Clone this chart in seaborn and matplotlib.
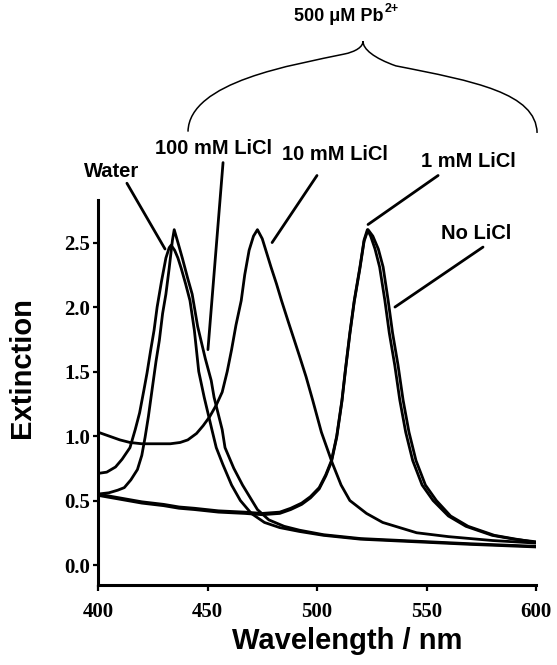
import matplotlib
matplotlib.use("Agg")
import numpy as np
import pandas as pd
import seaborn as sns
import matplotlib.pyplot as plt
from matplotlib.path import Path
from matplotlib.patches import PathPatch

# ---------------- data ----------------
water_nm = [400, 404, 408, 411, 414.6, 417, 419, 421, 422.4, 424, 425.6, 427, 429, 431, 432.5, 433.4,
            435, 436.5, 438, 440, 442, 444, 446, 448.5, 452, 454, 457, 461, 465, 470, 476, 483, 492,
            503, 520, 545, 570, 600]
water_ext = [0.71, 0.72, 0.76, 0.82, 0.91, 1.05, 1.18, 1.36, 1.49, 1.66, 1.82, 2.00, 2.20, 2.38, 2.46, 2.48,
             2.44, 2.38, 2.30, 2.18, 2.05, 1.82, 1.50, 1.30, 1.05, 0.91, 0.78, 0.62, 0.50, 0.40, 0.33, 0.29, 0.26,
             0.23, 0.20, 0.18, 0.16, 0.14]

licl100_nm = [400, 405, 409, 412, 415, 418, 420, 421.5, 423, 424.7, 426.5, 428, 429.5, 431, 432.5, 434, 434.8,
              436.5, 438.5, 441, 443, 445.5, 449, 451.7, 453, 456.7, 458, 462, 466, 472.8, 478, 485, 492,
              503, 520, 545, 570, 600]
licl100_ext = [0.55, 0.56, 0.58, 0.60, 0.66, 0.74, 0.85, 0.99, 1.15, 1.36, 1.58, 1.74, 1.95, 2.10, 2.30, 2.52, 2.60,
               2.50, 2.38, 2.22, 2.10, 1.85, 1.60, 1.43, 1.30, 1.05, 0.91, 0.75, 0.62, 0.43, 0.35, 0.30, 0.27,
               0.235, 0.205, 0.185, 0.165, 0.145]

licl10_nm = [400, 405, 410, 414.6, 420, 427, 433, 437.5, 441, 445, 448, 451, 454, 456.7, 459, 461, 463, 465.4, 467,
             469, 471, 472.8, 475, 477, 479, 481.5, 483.8, 487, 489.7, 492, 495, 498, 502, 507, 511, 515,
             522.6, 530, 545.5, 560, 580, 600]
licl10_ext = [1.03, 1.00, 0.97, 0.95, 0.94, 0.94, 0.94, 0.95, 0.97, 1.02, 1.08, 1.15, 1.24, 1.34, 1.50, 1.67, 1.86, 2.05, 2.25,
              2.44, 2.55, 2.60, 2.53, 2.42, 2.31, 2.18, 2.05, 1.88, 1.74, 1.62, 1.46, 1.28, 1.03, 0.79, 0.62, 0.50,
              0.40, 0.33, 0.25, 0.22, 0.19, 0.17]

licl1_nm = [400, 410, 420, 430, 437, 444, 455, 467, 475, 483, 488, 493, 497, 501, 504, 506.6, 509, 511.4,
            513, 515, 517, 519.6, 521.5, 523, 524.5, 526.5, 528.6, 531, 533, 535.5, 537.8, 540.5, 543.7,
            548, 553, 560, 568, 580, 590, 600]
licl1_ext = [0.55, 0.52, 0.49, 0.47, 0.45, 0.44, 0.42, 0.41, 0.40, 0.41, 0.44, 0.48, 0.53, 0.60, 0.70, 0.81, 1.00, 1.28,
             1.52, 1.80, 2.05, 2.31, 2.52, 2.60, 2.55, 2.45, 2.31, 2.05, 1.80, 1.55, 1.28, 1.03, 0.81,
             0.62, 0.50, 0.38, 0.30, 0.23, 0.20, 0.18]

nolicl_nm = [400, 410, 420, 430, 437, 444, 455, 467, 475, 483, 488, 493, 497, 501, 504, 506.6, 509, 511.4,
             513, 515, 517, 519.6, 521.5, 523.3, 525.5, 528, 530.2, 532.5, 534.5, 537, 539.3, 542, 545.2,
             549.5, 554.5, 561, 569, 581, 591, 600]
nolicl_ext = [0.54, 0.51, 0.48, 0.46, 0.44, 0.43, 0.41, 0.40, 0.39, 0.40, 0.43, 0.47, 0.52, 0.59, 0.69, 0.80, 0.99, 1.27,
              1.51, 1.79, 2.04, 2.30, 2.51, 2.60, 2.55, 2.45, 2.31, 2.05, 1.80, 1.55, 1.28, 1.03, 0.81,
              0.62, 0.50, 0.38, 0.30, 0.23, 0.20, 0.175]

series_names = ["Water", "100 mM LiCl", "10 mM LiCl", "1 mM LiCl", "No LiCl"]
series_nm = [water_nm, licl100_nm, licl10_nm, licl1_nm, nolicl_nm]
series_ext = [water_ext, licl100_ext, licl10_ext, licl1_ext, nolicl_ext]

x_ticks = [400, 450, 500, 550, 600]
y_ticks = [0.0, 0.5, 1.0, 1.5, 2.0, 2.5]

# ---------------- figure ----------------
sns.set_style("ticks")
plt.rcParams["font.family"] = ["Liberation Sans", "DejaVu Sans"]
plt.rcParams["text.color"] = "black"
plt.rcParams["axes.labelcolor"] = "black"
plt.rcParams["xtick.color"] = "black"
plt.rcParams["ytick.color"] = "black"

fig = plt.figure(figsize=(5.57, 6.65), dpi=100)
ax = fig.add_axes([98 / 557, 1 - 585 / 665, 438 / 557, 385 / 665])

frames = [pd.DataFrame({"Wavelength": n, "Extinction": e, "sample": s})
          for s, n, e in zip(series_names, series_nm, series_ext)]
df = pd.concat(frames, ignore_index=True)
sns.lineplot(data=df, x="Wavelength", y="Extinction", units="sample", estimator=None,
             color="black", lw=2.0, sort=False, ax=ax, legend=False)

ax.set_xlim(400, 600)
ax.set_ylim(-0.155, 2.83)
ax.set_xticks(x_ticks)
ax.set_xticklabels([str(v) for v in x_ticks])
ax.set_yticks(y_ticks)
ax.set_yticklabels([f"{v:.1f}" for v in y_ticks])
for lab in ax.get_xticklabels() + ax.get_yticklabels():
    lab.set_fontfamily("Liberation Serif")
    lab.set_fontweight("bold")
    lab.set_fontsize(15)
    lab.set_color("black")
ax.tick_params(axis="y", direction="out", length=3.5, width=1.6, pad=2, colors="black")
ax.tick_params(axis="x", direction="out", length=4.5, width=1.6, pad=8, colors="black")
sns.despine(ax=ax)
for sp in ["left", "bottom"]:
    ax.spines[sp].set_linewidth(2.2)
    ax.spines[sp].set_color("black")

ax.set_xlabel("Wavelength / nm", fontsize=21, fontweight="bold", color="black")
ax.xaxis.set_label_coords(0.57, -0.11)
ax.set_ylabel("Extinction", fontsize=21, fontweight="bold", color="black")
ax.yaxis.set_label_coords(-0.142, 0.566)

# ---------------- annotations ----------------
line_kw = dict(arrowstyle="-", lw=2.0, color="black", shrinkA=0, shrinkB=0)
ann = [
    ("Water", (406.2, 3.05), (413.2, 2.96), (430.6, 2.45)),
    ("100 mM LiCl", (452.7, 3.23), (457.1, 3.12), (450.2, 1.67)),
    ("10 mM LiCl", (508.2, 3.18), (500.0, 3.02), (479.5, 2.50)),
    ("1 mM LiCl", (569.2, 3.13), (555.3, 3.02), (523.3, 2.64)),
    ("No LiCl", (572.8, 2.57), (575.8, 2.465), (535.6, 2.00)),
]
for label, tpos, p0, p1 in ann:
    ax.annotate("", xy=p1, xytext=p0, arrowprops=line_kw, annotation_clip=False)
    ax.text(tpos[0], tpos[1], label, ha="center", va="center", fontsize=14.5,
            fontweight="bold", color="black", clip_on=False)

title = ax.text(510, 4.25, "500 μM Pb", ha="center", va="center", fontsize=13,
                fontweight="bold", color="black", clip_on=False)
ax.annotate("2+", xy=(1.0, 0.62), xycoords=title, xytext=(1, 0), textcoords="offset points",
            ha="left", va="bottom", fontsize=9, fontweight="bold", color="black",
            annotation_clip=False)

verts = [(441.1, 3.36), (441.5, 3.75), (490, 3.88), (512, 3.96),
         (518, 3.98), (521, 4.02), (521, 4.06),
         (521, 4.0), (526, 3.93), (536, 3.87),
         (572, 3.75), (600, 3.66), (600.5, 3.35)]
codes = [Path.MOVETO] + [Path.CURVE4] * 12
brace = PathPatch(Path(verts, codes), facecolor="none", edgecolor="black", lw=1.1,
                  transform=ax.transData, clip_on=False)
ax.add_patch(brace)

fig.savefig("out.png", dpi=100)
